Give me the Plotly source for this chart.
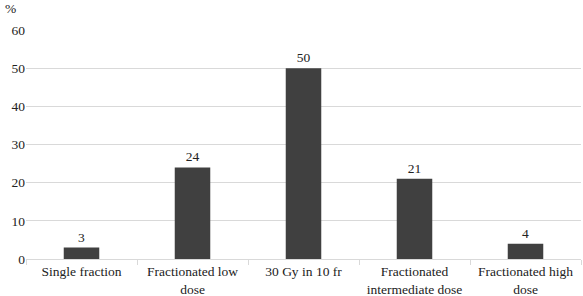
import plotly.graph_objects as go

categories = ["Single fraction", "Fractionated low<br>dose", "30 Gy in 10 fr",
              "Fractionated<br>intermediate dose", "Fractionated high<br>dose"]
values = [3, 24, 50, 21, 4]
y_ticks = [0, 10, 20, 30, 40, 50, 60]

font_family = "Liberation Serif, Times New Roman, serif"

fig = go.Figure(go.Bar(
    x=categories, y=values,
    marker=dict(color="#404040", line=dict(width=0)),
    text=[str(v) for v in values], textposition="outside",
    textfont=dict(family=font_family, size=13.5, color="#222"),
    cliponaxis=False,
))

fig.update_layout(
    width=583, height=296,
    margin=dict(l=26, r=2, t=30, b=37),
    paper_bgcolor="white", plot_bgcolor="white",
    bargap=0.68,
    showlegend=False,
    font=dict(family=font_family, size=13.5, color="#222"),
    xaxis=dict(
        showline=True, linecolor="#d9d9d9", linewidth=1,
        ticks="outside", tickson="boundaries", ticklen=5, tickcolor="#d9d9d9",
        showgrid=False, automargin=False,
        tickfont=dict(family=font_family, size=13.5, color="#222"),
    ),
    yaxis=dict(
        range=[0, 60], tickvals=y_ticks, showgrid=True, gridcolor="#d9d9d9",
        zeroline=False, showline=False, automargin=False,
        tickfont=dict(family=font_family, size=13.5, color="#222"),
        ticklen=0, ticks="",
    ),
    annotations=[dict(text="%", x=0, y=1, xref="paper", yref="paper",
                      xshift=-23, yshift=12, showarrow=False,
                      xanchor="left", yanchor="bottom",
                      font=dict(family=font_family, size=13.5, color="#222"))],
)

fig.write_html("out.html", config={"displayModeBar": False},
               post_script="document.body.style.margin='0';document.body.style.padding='0';")
